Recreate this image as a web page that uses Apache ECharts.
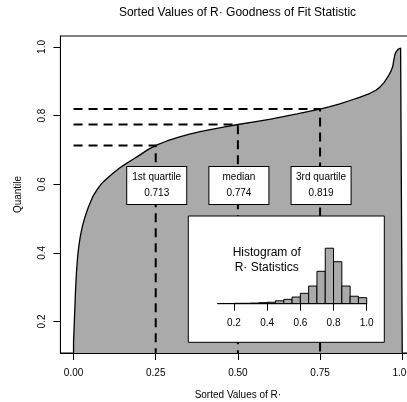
<!DOCTYPE html>
<html><head><meta charset="utf-8">
<script src="https://cdn.jsdelivr.net/npm/echarts@6/dist/echarts.min.js"></script>
<style>html,body{margin:0;padding:0;background:#fff}#c{width:407px;height:402px}</style>
</head><body><div id="c"></div>
<script>
// ---- data ----
const curveProb = [0.000,0.001,0.002,0.004,0.006,0.009,0.0125,0.0155,0.020,0.027,0.035,0.045,0.058,0.072,0.0863,0.100,0.120,0.140,0.160,0.180,0.200,0.225,0.250,0.284,0.320,0.350,0.385,0.420,0.460,0.500,0.550,0.600,0.638,0.680,0.720,0.750,0.780,0.810,0.841,0.870,0.902,0.920,0.932,0.945,0.957,0.965,0.971,0.974,0.977,0.980,0.983,0.988,0.995,1.000];
const curveValue = [0.142,0.165,0.190,0.240,0.290,0.345,0.390,0.415,0.445,0.478,0.505,0.533,0.563,0.585,0.603,0.615,0.632,0.647,0.660,0.672,0.684,0.700,0.713,0.726,0.737,0.745,0.753,0.760,0.767,0.774,0.782,0.790,0.797,0.805,0.813,0.819,0.826,0.834,0.844,0.853,0.865,0.874,0.883,0.897,0.914,0.928,0.943,0.960,0.975,0.984,0.989,0.994,0.997,0.998];
const quartileNames = ['1st quartile','median','3rd quartile'];
const quartileProbs = [0.25,0.50,0.75];
const quartileVals = [0.713,0.774,0.819];
const xTicks = [0,0.25,0.5,0.75,1.0];
const yTicks = [0.2,0.4,0.6,0.8,1.0];
const binStarts = [0.10,0.15,0.20,0.25,0.30,0.35,0.40,0.45,0.50,0.55,0.60,0.65,0.70,0.75,0.80,0.85,0.90,0.95];
const binCounts = [1,1,2,2,3,5,7,14,21,32,50,85,156,267,202,85,36,29];
const histTicks = [0.2,0.4,0.6,0.8,1.0];
const binWidth = 0.05;

// ---- layout ----
const Y_MIN = 0.108, Y_MAX = 1.032;
const BOX_Y = 0.6;
const FONT = '"Liberation Sans", Arial, Helvetica, sans-serif';

const chart = echarts.init(document.getElementById('c'), null, {renderer:'canvas'});

const curveData = [[0, Y_MIN]].concat(curveProb.map((p,i)=>[p, curveValue[i]])).concat([[1, Y_MIN]]);

const dashSeries = quartileProbs.map((p,i)=>({
  type:'line', xAxisIndex:0, yAxisIndex:0, symbol:'none', silent:true, z:3,
  data:[[0, quartileVals[i]],[p, quartileVals[i]],[p, Y_MIN]],
  lineStyle:{color:'#000', width:2, type:[9,6], cap:'butt'}
}));

const histMax = Math.max(...binCounts);

const option = {
  animation:false,
  textStyle:{fontFamily:FONT},
  grid:[
    {left:60.4, top:36, width:355, height:317, show:true, borderColor:'#000', borderWidth:1, backgroundColor:'transparent', outerBoundsMode:'none', containLabel:false},
    {left:188.3, top:216, width:196, height:126.3, show:true, borderColor:'#000', borderWidth:1, backgroundColor:'#fff', z:10, outerBoundsMode:'none', containLabel:false},
    {left:211.4, top:246, width:161.3, height:57.7, show:false, z:11, outerBoundsMode:'none', containLabel:false}
  ],
  xAxis:[
    {type:'value', gridIndex:0, min:-0.04, max:1.04, z:5,
     splitLine:{show:false},
     axisLine:{onZero:false, lineStyle:{color:'#000', width:1}},
     axisTick:{customValues:xTicks, length:7, lineStyle:{color:'#000', width:1}},
     axisLabel:{customValues:xTicks, formatter:v=>v.toFixed(2), fontSize:10, color:'#000', margin:15, fontFamily:FONT, alignMaxLabel:'center', alignMinLabel:'center', hideOverlap:false},
     name:'Sorted Values of R·', nameLocation:'middle', nameGap:37,
     nameTextStyle:{fontSize:10, color:'#000', fontFamily:FONT}},
    {type:'value', gridIndex:1, min:0, max:1, show:false, splitLine:{show:false}},
    {type:'value', gridIndex:2, min:0.064, max:1.036, z:12,
     splitLine:{show:false},
     axisLine:{show:false, onZero:false},
     axisTick:{customValues:histTicks, length:7, lineStyle:{color:'#000', width:1}},
     axisLabel:{customValues:histTicks, formatter:v=>v.toFixed(1), fontSize:10, color:'#000', margin:14.5, fontFamily:FONT}}
  ],
  yAxis:[
    {type:'value', gridIndex:0, min:Y_MIN, max:Y_MAX, z:5,
     splitLine:{show:false},
     axisLine:{onZero:false, lineStyle:{color:'#000', width:1}},
     axisTick:{customValues:yTicks, length:7, lineStyle:{color:'#000', width:1}},
     axisLabel:{customValues:yTicks, formatter:v=>v.toFixed(1), rotate:90, fontSize:10, color:'#000', margin:13, fontFamily:FONT},
     name:'Quantile', nameLocation:'middle', nameGap:37,
     nameTextStyle:{fontSize:10, color:'#000', fontFamily:FONT}},
    {type:'value', gridIndex:1, min:0, max:1, show:false, splitLine:{show:false}},
    {type:'value', gridIndex:2, min:0, max:histMax*1.04, show:false, splitLine:{show:false}}
  ],
  graphic:[
    {type:'text', x:237.5, y:12.5, z:100, style:{text:'Sorted Values of R· Goodness of Fit Statistic', font:'12px '+FONT, fill:'#000', align:'center', verticalAlign:'middle'}},
    {type:'text', x:266.7, y:260, z:100, style:{text:'Histogram of\nR· Statistics', font:'12px '+FONT, lineHeight:14.6, fill:'#000', align:'center', verticalAlign:'middle'}}
  ],
  series:[
    {type:'line', xAxisIndex:0, yAxisIndex:0, symbol:'none', silent:true, z:2,
     data:curveData,
     lineStyle:{color:'#000', width:1.3},
     areaStyle:{color:'#aaaaaa', opacity:1, origin:'start'}},
    ...dashSeries,
    {type:'scatter', xAxisIndex:0, yAxisIndex:0, symbolSize:0, silent:true, z:4,
     itemStyle:{opacity:1},
     data:quartileProbs.map((p,i)=>({value:[p, BOX_Y]})),
     label:{show:true, position:'inside', offset:[1,1.4],
       formatter:(prm)=>quartileNames[prm.dataIndex]+'\n'+quartileVals[prm.dataIndex].toFixed(3),
       fontSize:10, lineHeight:16, color:'#000', fontFamily:FONT, opacity:1,
       backgroundColor:'#ffffff', borderColor:'#000', borderWidth:1,
       padding:[3,0,2,0], width:59, align:'center'}},
    {type:'line', xAxisIndex:2, yAxisIndex:2, symbol:'none', silent:true, z:12,
     data:[[histTicks[0],0],[histTicks[histTicks.length-1],0]],
     lineStyle:{color:'#000', width:1}},
    {type:'custom', xAxisIndex:2, yAxisIndex:2, z:12, silent:true,
     data:binStarts.map((b,i)=>[b, binCounts[i]]),
     renderItem:(params, api)=>{
       const x0 = api.value(0), c = api.value(1);
       const p0 = api.coord([x0, c]);
       const p1 = api.coord([x0+binWidth, 0]);
       return {type:'rect', z2:1,
         shape:{x:p0[0], y:p0[1], width:p1[0]-p0[0], height:p1[1]-p0[1]},
         style:{fill:'#aaaaaa', stroke:'#000', lineWidth:1}};
     }}
  ]
};
chart.setOption(option);
</script>
</body></html>
